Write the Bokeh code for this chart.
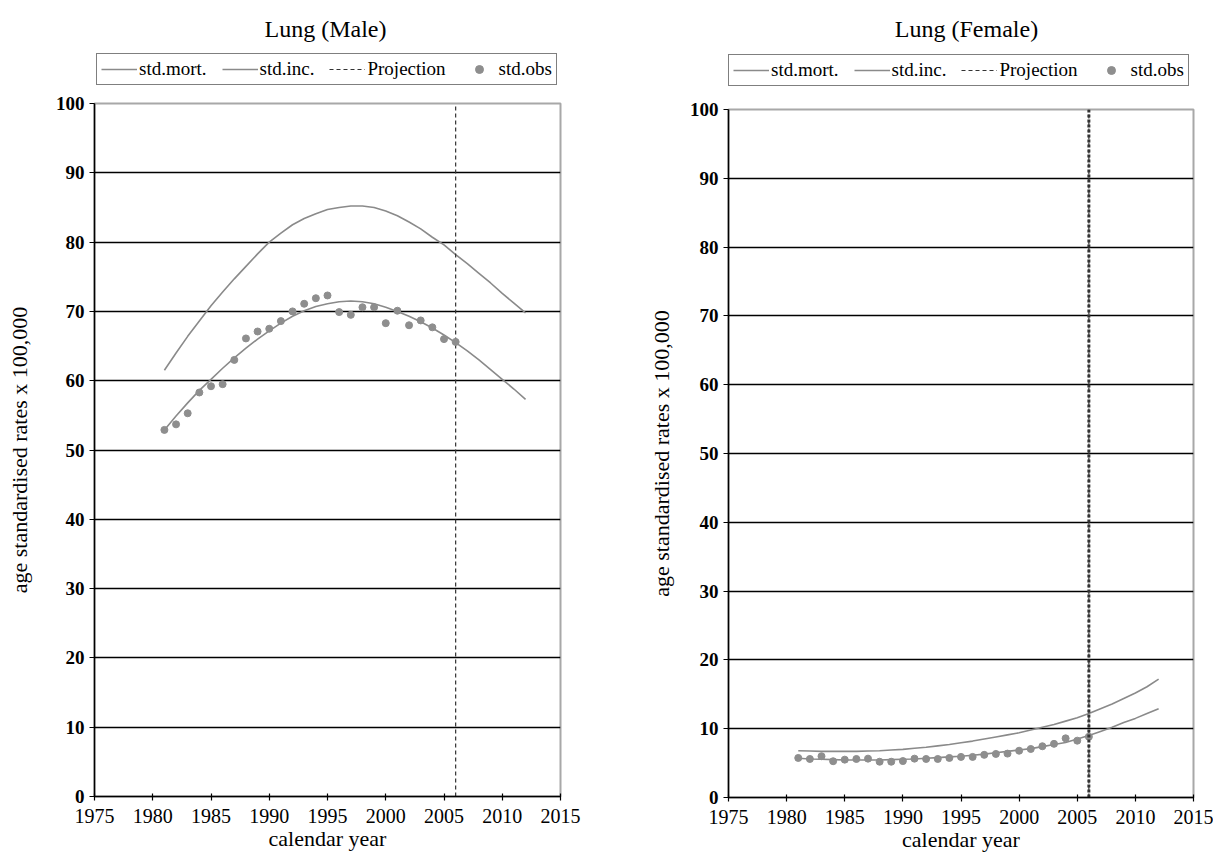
from bokeh.plotting import figure
from bokeh.models import Legend, LegendItem, Label, FixedTicker, Range1d
from bokeh.layouts import row, column
from bokeh.embed import file_html
from bokeh.resources import INLINE

# ---------------- data ----------------
years_fit = list(range(1981, 2013))
years_obs = list(range(1981, 2007))
projection_year = 2006
x_ticks = [1975, 1980, 1985, 1990, 1995, 2000, 2005, 2010, 2015]
y_ticks = [0, 10, 20, 30, 40, 50, 60, 70, 80, 90, 100]
grid_levels = [10, 20, 30, 40, 50, 60, 70, 80, 90]
x_limits = [1975, 2015]
y_limits = [0, 100]

male_mort = [61.5, 64.0, 66.4, 68.6, 70.8, 72.8, 74.7, 76.5, 78.3, 80.0,
             81.3, 82.5, 83.4, 84.1, 84.7, 85.0, 85.2, 85.2, 85.0, 84.5,
             83.8, 82.9, 81.9, 80.7, 79.6, 78.2, 76.9, 75.5, 74.1, 72.6,
             71.2, 69.8]
male_inc = [52.9, 54.9, 56.8, 58.6, 60.2, 61.8, 63.3, 64.7, 66.0, 67.2,
            68.3, 69.3, 70.1, 70.7, 71.1, 71.4, 71.5, 71.4, 71.1, 70.6,
            70.0, 69.3, 68.5, 67.6, 66.6, 65.5, 64.3, 63.0, 61.6, 60.2,
            58.8, 57.3]
male_obs = [52.9, 53.7, 55.3, 58.3, 59.2, 59.5, 63.0, 66.1, 67.1, 67.5,
            68.6, 70.0, 71.1, 71.9, 72.3, 69.9, 69.5, 70.6, 70.6, 68.3,
            70.1, 68.0, 68.7, 67.7, 66.0, 65.6]

female_mort = [6.8, 6.75, 6.7, 6.7, 6.7, 6.7, 6.75, 6.8, 6.9, 7.0,
               7.15, 7.3, 7.5, 7.7, 7.95, 8.2, 8.5, 8.8, 9.1, 9.4,
               9.8, 10.2, 10.6, 11.1, 11.6, 12.2, 12.9, 13.6, 14.4, 15.2,
               16.1, 17.2]
female_inc = [5.7, 5.6, 5.55, 5.5, 5.45, 5.45, 5.45, 5.45, 5.5, 5.55,
              5.6, 5.7, 5.8, 5.9, 6.0, 6.15, 6.3, 6.5, 6.7, 6.9,
              7.1, 7.4, 7.7, 8.0, 8.5, 9.0, 9.6, 10.2, 10.9, 11.5,
              12.2, 12.9]
female_obs = [5.75, 5.6, 6.0, 5.27, 5.5, 5.6, 5.65, 5.2, 5.2, 5.3,
              5.65, 5.6, 5.6, 5.75, 5.9, 5.9, 6.2, 6.33, 6.38, 6.8,
              7.05, 7.45, 7.8, 8.6, 8.26, 8.84]

# ---------------- style ----------------
FONT = "Liberation Serif"
LINE_C = "#8a8a8a"
DOT_C = "#8e8e8e"
PROJ_C = "#333333"


def draw_series(p, mort, inc, obs):
    r_mort = p.line(years_fit, mort, line_color=LINE_C, line_width=1.6)
    r_inc = p.line(years_fit, inc, line_color=LINE_C, line_width=1.6)
    r_proj = p.line([projection_year, projection_year], y_limits,
                    line_color=PROJ_C, line_width=1.2, line_dash="4 3")
    r_obs = p.scatter(years_obs, obs, size=7, marker="circle",
                      fill_color=DOT_C, line_color=DOT_C)
    return r_mort, r_inc, r_proj, r_obs


def make_header(title, mort, inc, obs, width, height, title_x, legend_x,
                legend_y):
    # strip above the chart holding its title and key (frame is aligned
    # with the chart frame below it by the column layout)
    h = figure(width=width, height=height,
               x_range=Range1d(x_limits[0], x_limits[1]),
               y_range=Range1d(-2, -1),
               x_axis_location=None, y_axis_location=None,
               output_backend="svg", toolbar_location=None,
               min_border=0, border_fill_color="white",
               background_fill_color="white")
    h.outline_line_color = None
    h.grid.visible = False
    r_mort, r_inc, r_proj, r_obs = draw_series(h, mort, inc, obs)
    legend = Legend(items=[
        LegendItem(label="std.mort.", renderers=[r_mort]),
        LegendItem(label="std.inc.", renderers=[r_inc]),
        LegendItem(label="Projection", renderers=[r_proj]),
        LegendItem(label="std.obs", renderers=[r_obs]),
    ], orientation="horizontal", location=(legend_x, legend_y))
    legend.label_text_font = FONT
    legend.label_text_font_size = "19px"
    legend.label_text_color = "black"
    legend.border_line_color = "black"
    legend.border_line_width = 1.5
    legend.background_fill_color = "white"
    legend.background_fill_alpha = 1
    legend.glyph_width = 36
    legend.glyph_height = 20
    legend.label_height = 20
    legend.label_standoff = 2
    legend.spacing = 15
    legend.padding = 4
    legend.margin = 0
    h.add_layout(legend, "center")
    h.add_layout(Label(text=title, x=title_x, y=height - 28,
                       x_units="screen", y_units="screen",
                       text_align="center", text_baseline="middle",
                       text_font=FONT, text_font_size="24px",
                       text_color="black"))
    return h


def make_chart(mort, inc, obs, width, height, bl, br, bt, bb, ylab_standoff,
               thick_proj):
    p = figure(width=width, height=height,
               x_range=Range1d(x_limits[0], x_limits[1]),
               y_range=Range1d(y_limits[0], y_limits[1]),
               output_backend="svg", toolbar_location=None,
               min_border_left=bl, min_border_right=br,
               min_border_top=bt, min_border_bottom=bb,
               background_fill_color="white", border_fill_color="white")
    p.outline_line_color = "#a8a8a8"
    p.outline_line_width = 2

    p.xgrid.visible = False
    p.ygrid.ticker = FixedTicker(ticks=grid_levels)
    p.ygrid.grid_line_color = "black"
    p.ygrid.grid_line_width = 1.5

    p.xaxis.ticker = FixedTicker(ticks=x_ticks)
    p.yaxis.ticker = FixedTicker(ticks=y_ticks)
    for ax in (p.xaxis[0], p.yaxis[0]):
        ax.axis_line_color = "black"
        ax.axis_line_width = 1.5
        ax.major_tick_line_color = "black"
        ax.major_tick_line_width = 1.2
        ax.minor_tick_line_color = None
        ax.major_label_text_font = FONT
        ax.major_label_text_color = "black"
        ax.axis_label_text_font = FONT
        ax.axis_label_text_font_style = "normal"
        ax.axis_label_text_font_size = "22px"
        ax.axis_label_text_color = "black"
    p.xaxis.major_tick_in = 3
    p.xaxis.major_tick_out = 4
    p.yaxis.major_tick_in = 0
    p.yaxis.major_tick_out = 5
    p.xaxis.major_label_text_font_size = "20px"
    p.yaxis.major_label_text_font_size = "19px"
    p.yaxis.major_label_text_font_style = "bold"
    p.xaxis.major_label_standoff = 8
    p.yaxis.major_label_standoff = 5
    p.xaxis.axis_label = "calendar year"
    p.yaxis.axis_label = "age standardised rates x 100,000"
    p.xaxis.axis_label_standoff = 0
    p.yaxis.axis_label_standoff = ylab_standoff

    draw_series(p, mort, inc, obs)
    if thick_proj:
        p.line([projection_year, projection_year], y_limits,
               line_color=PROJ_C, line_width=3, line_dash="3 2")
    return p


male = column(
    make_header("Lung (Male)", male_mort, male_inc, male_obs,
                width=610, height=91, title_x=231, legend_x=2, legend_y=6),
    make_chart(male_mort, male_inc, male_obs, width=610, height=766,
               bl=94, br=50, bt=12, bb=61, ylab_standoff=21,
               thick_proj=False),
    spacing=0)
female = column(
    make_header("Lung (Female)", female_mort, female_inc, female_obs,
                width=603, height=97, title_x=238, legend_x=0, legend_y=11),
    make_chart(female_mort, female_inc, female_obs, width=603, height=761,
               bl=118, br=20, bt=12, bb=61, ylab_standoff=13,
               thick_proj=True),
    spacing=0)

layout = row(male, female, spacing=0)
open("out.html", "w").write(file_html(layout, INLINE))
